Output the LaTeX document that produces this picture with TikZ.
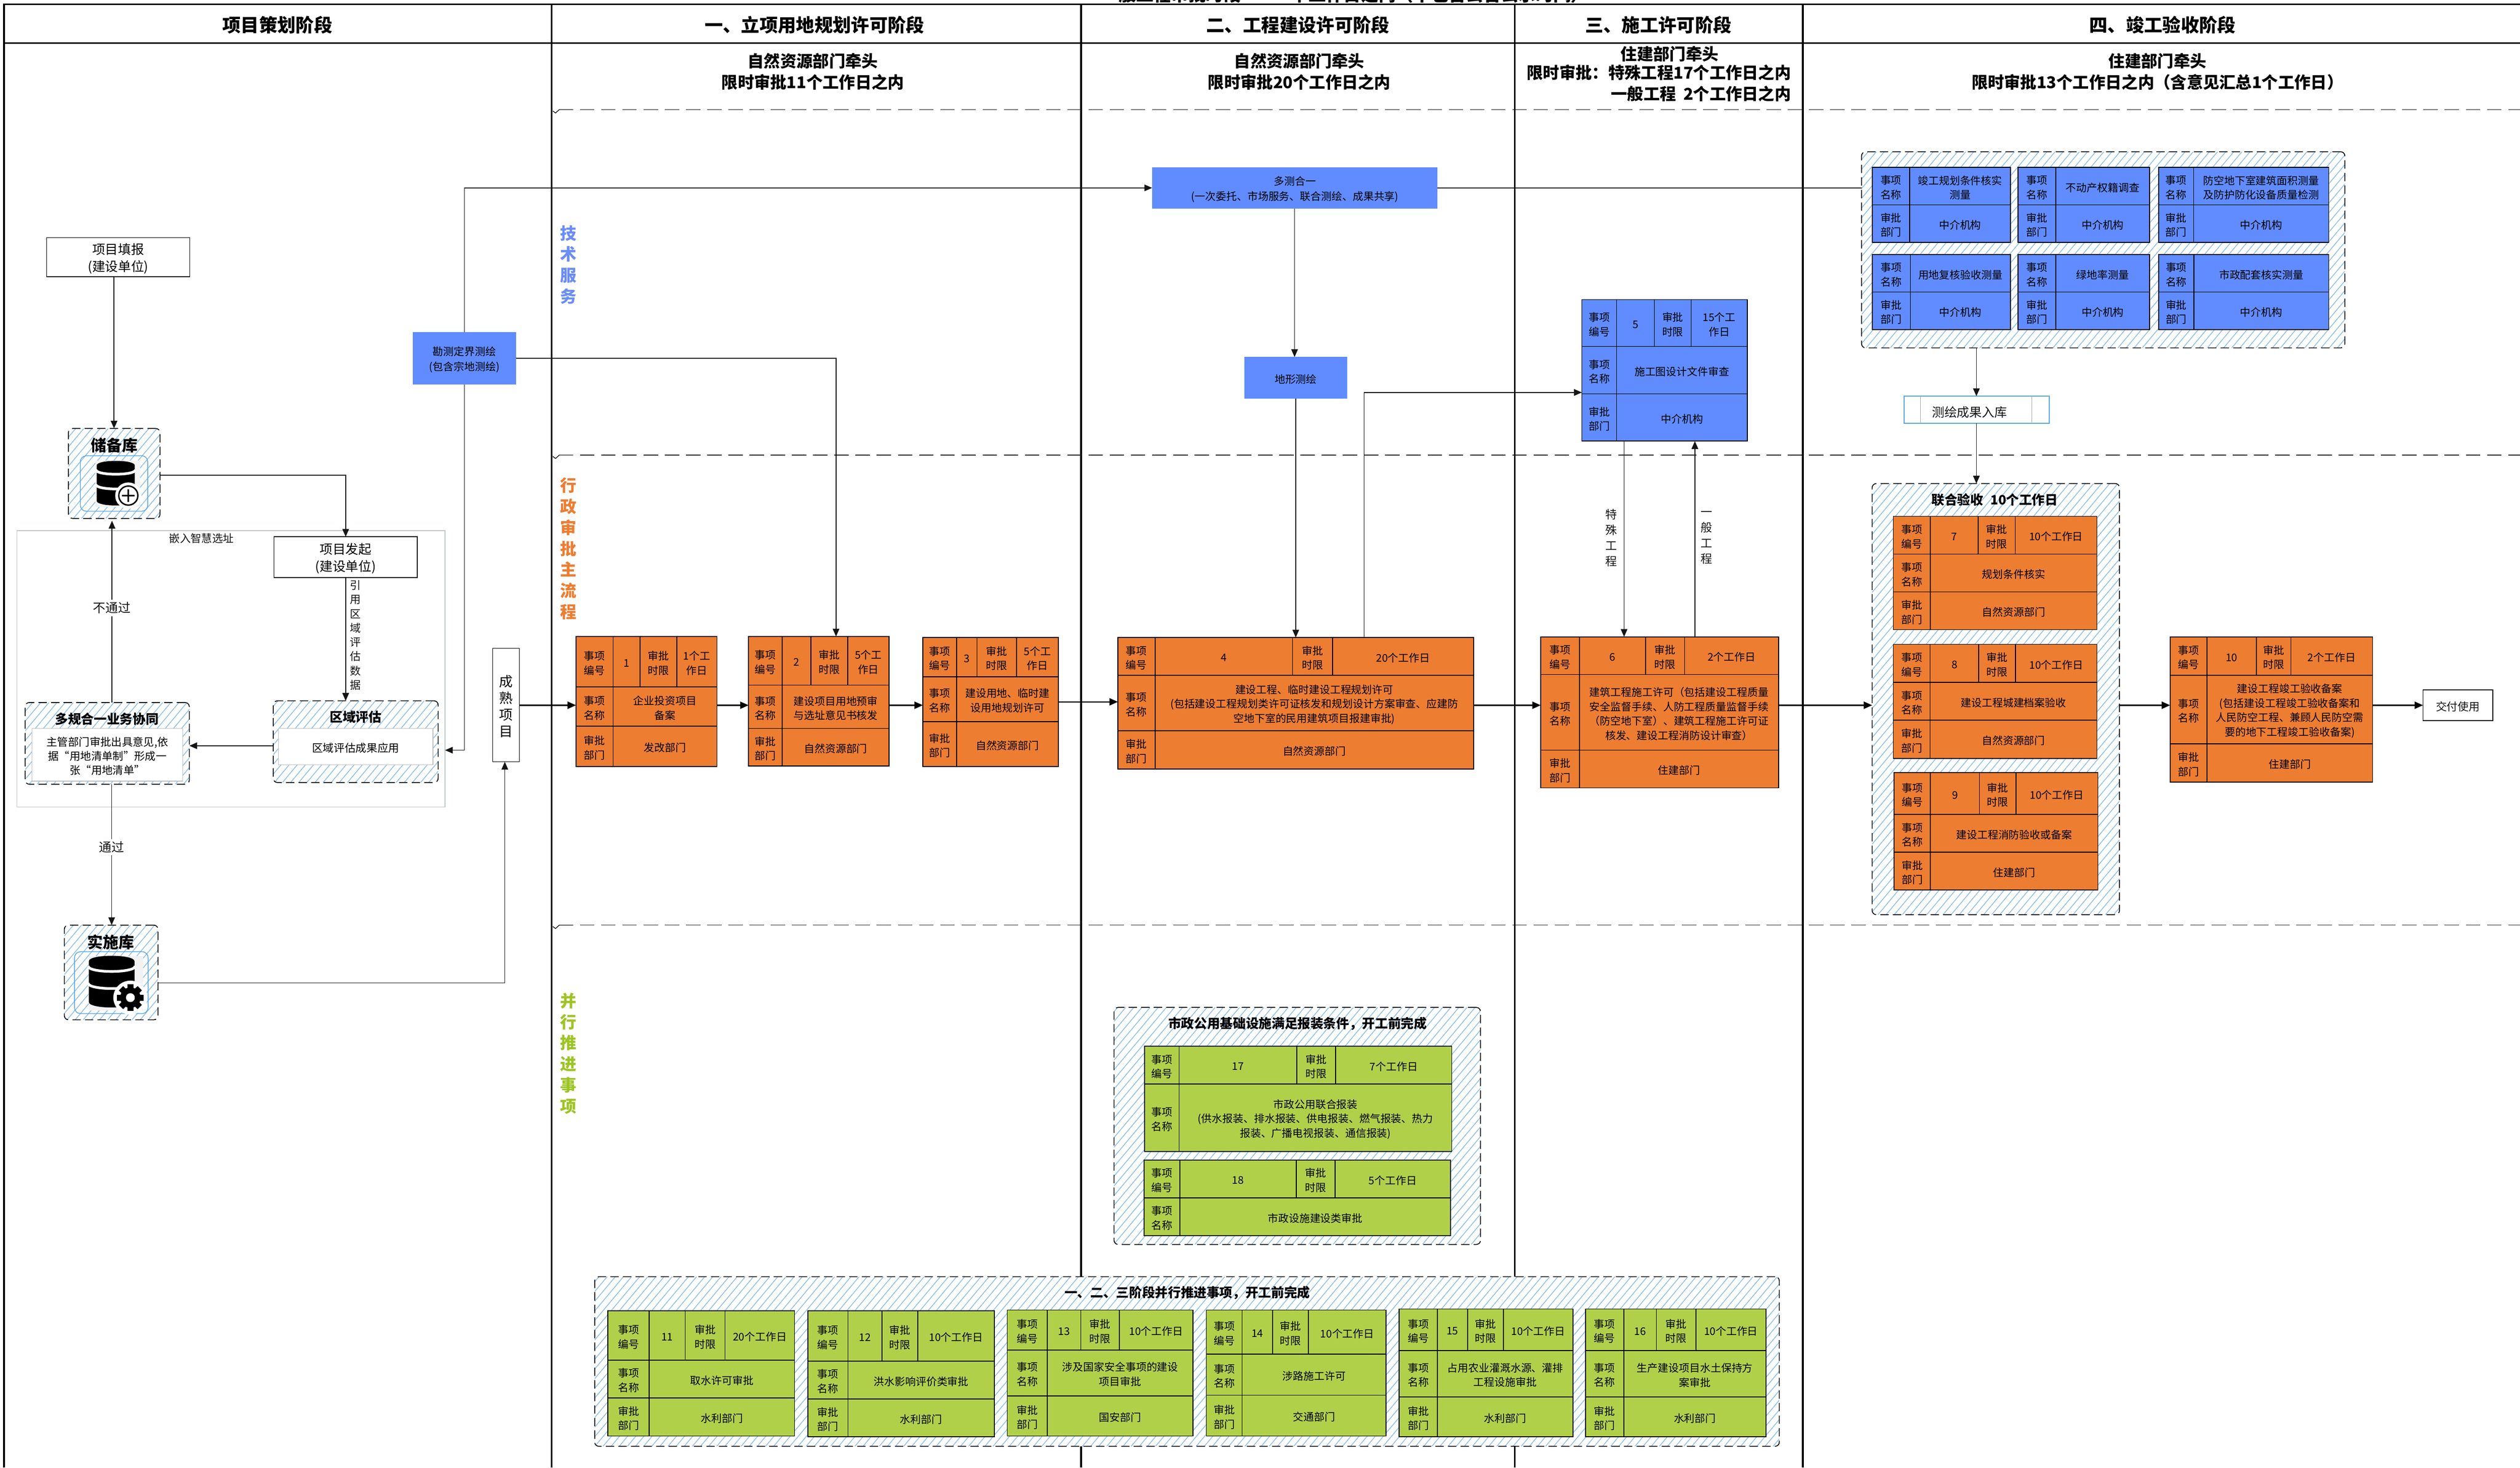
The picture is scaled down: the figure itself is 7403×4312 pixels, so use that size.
\documentclass[tikz,border=0pt]{standalone}
\usepackage{fontspec}
\setmainfont{Noto Sans CJK SC}
\usetikzlibrary{arrows.meta,patterns.meta,calc}
\definecolor{tblblue}{HTML}{608CFF}
\definecolor{tblorange}{HTML}{ED7D31}
\definecolor{tblgreen}{HTML}{B1D04A}
\definecolor{hatchc}{HTML}{85BCEB}
\definecolor{sideblue}{HTML}{6B8DF5}
\definecolor{sidegreen}{HTML}{9DC425}
\definecolor{framegrey}{HTML}{BFC5C5}
\definecolor{innerblue}{HTML}{55A5E0}
\definecolor{inkc}{HTML}{151515}
\newcommand{\fsz}[2]{\fontsize{#1pt}{#2pt}\selectfont}
\def\geo#1,#2,#3,#4,#5,#6,#7,#8,#9;{\def\gxa{#1}\def\gya{#2}\def\gxb{#3}\def\gyb{#4}\def\gra{#5}\def\grb{#6}\def\gca{#7}\def\gcb{#8}\def\gcc{#9}}
\def\curfill{white}
% text of a box: box name, options, text
\newcommand{\boxtext}[3]{\node[inner sep=0pt,align=center,#2] (#1-t) at ([yshift=-1.2pt]#1.center) {#3};}
% name, x0, y0, x1, y1, text
\newcommand{\tcell}[6]{\node[cellbox,fill=\curfill,minimum width={(#4-#2)*0.01cm},minimum height={(#5-#3)*0.01cm}] (#1) at ({(#2+#4)/2},{(#3+#5)/2}) {};\boxtext{#1}{celltext}{#6}}
% name, fill, geometry, number, time, title, department
\newcommand{\threerow}[7]{\geo#3;\def\curfill{#2}%
\tcell{#1}{\gxa}{\gya}{\gxb}{\gyb}{}%
\tcell{#1-a}{\gxa}{\gya}{\gca}{\gra}{事项\\编号}%
\tcell{#1-b}{\gca}{\gya}{\gcb}{\gra}{#4}%
\tcell{#1-c}{\gcb}{\gya}{\gcc}{\gra}{审批\\时限}%
\tcell{#1-d}{\gcc}{\gya}{\gxb}{\gra}{#5}%
\tcell{#1-e}{\gxa}{\gra}{\gca}{\grb}{事项\\名称}%
\tcell{#1-f}{\gca}{\gra}{\gxb}{\grb}{#6}%
\tcell{#1-g}{\gxa}{\grb}{\gca}{\gyb}{审批\\部门}%
\tcell{#1-h}{\gca}{\grb}{\gxb}{\gyb}{#7}}
% name, fill, geometry, number, time, title
\newcommand{\numrow}[6]{\geo#3;\def\curfill{#2}%
\tcell{#1}{\gxa}{\gya}{\gxb}{\gyb}{}%
\tcell{#1-a}{\gxa}{\gya}{\gca}{\gra}{事项\\编号}%
\tcell{#1-b}{\gca}{\gya}{\gcb}{\gra}{#4}%
\tcell{#1-c}{\gcb}{\gya}{\gcc}{\gra}{审批\\时限}%
\tcell{#1-d}{\gcc}{\gya}{\gxb}{\gra}{#5}%
\tcell{#1-e}{\gxa}{\gra}{\gca}{\gyb}{事项\\名称}%
\tcell{#1-f}{\gca}{\gra}{\gxb}{\gyb}{#6}}
% name, x0, y0, x1, y1, r, c, title
\newcommand{\namerow}[8]{\def\curfill{tblblue}%
\tcell{#1}{#2}{#3}{#4}{#5}{}%
\tcell{#1-a}{#2}{#3}{#7}{#6}{事项\\名称}%
\tcell{#1-b}{#7}{#3}{#4}{#6}{#8}%
\tcell{#1-c}{#2}{#6}{#7}{#5}{审批\\部门}%
\tcell{#1-d}{#7}{#6}{#4}{#5}{中介机构}}
% centre x, top y, bottom y, half width
\newcommand{\dbicon}[4]{%
\pgfmathsetmacro\dbry{0.24*#4}\pgfmathsetmacro\dbh{#3-#2}%
\fill[black] ({#1-#4},{#2+\dbry}) .. controls ({#1-#4},{#2-0.33*\dbry}) and ({#1+#4},{#2-0.33*\dbry}) .. ({#1+#4},{#2+\dbry}) -- ({#1+#4},{#3-\dbry}) .. controls ({#1+#4},{#3+0.33*\dbry}) and ({#1-#4},{#3+0.33*\dbry}) .. ({#1-#4},{#3-\dbry}) -- cycle;
\foreach \dbf in {0.20,0.53}{\pgfmathsetmacro\dby{#2+\dbf*\dbh}%
\draw[white,line width=2.2pt] ({#1-#4-2},\dby) .. controls ({#1-#4-2},{\dby+1.3*\dbry}) and ({#1+#4+2},{\dby+1.3*\dbry}) .. ({#1+#4+2},\dby);}}
\tikzset{
 lane/.style={draw=black,line width=1.4pt},
 sepline/.style={draw=inkc,line width=0.6pt},
 sepdash/.style={sepline,dash pattern=on 12pt off 5.7pt},
 cellbox/.style={draw=black,line width=0.7pt,rectangle,inner sep=0pt,outer sep=0pt},
 celltext/.style={text=black,font=\fsz{8.8}{12}},
 plainbox/.style={draw=black,line width=0.6pt,rectangle,inner sep=0pt,outer sep=0pt},
 plaintext/.style={font=\fsz{10.8}{14.3}},
 bluebox/.style={fill=tblblue,rectangle,inner sep=0pt,outer sep=0pt},
 bluetext/.style={font=\fsz{8.8}{12.3}},
 hatchbox/.style={rectangle,rounded corners=3.5pt,inner sep=0pt,outer sep=0pt,draw=black,line width=0.7pt,dash pattern=on 7pt off 3.5pt,preaction={fill=white},pattern={Lines[angle=50,distance=5.2pt,line width=0.6pt]},pattern color=hatchc},
 whitebody/.style={draw=black!25,fill=white,line width=0.6pt,rectangle,inner sep=0pt,outer sep=0pt},
 lanehead/.style={font=\fsz{15.3}{18}\bfseries,inner sep=0pt},
 subhead/.style={font=\fsz{13.6}{17.8}\bfseries,inner sep=0pt,align=center},
 stack/.style={font=\fsz{13.7}{17.6}\bfseries,inner sep=0pt,align=center},
 grouptitle/.style={font=\fsz{10.8}{14}\bfseries,inner sep=0pt,align=center},
 vlabel/.style={font=\fsz{9.7}{13.1},text=inkc,inner sep=0pt,align=center},
 flowlabel/.style={font=\fsz{10.5}{14},fill=white,inner sep=2pt,text=inkc},
 conn/.style={draw=inkc,line width=0.7pt,-{Triangle[length=6.5pt,width=5.5pt]}},
 plainconn/.style={draw=inkc,line width=0.7pt},
 flow/.style={draw=black,line width=1pt,-{Triangle[length=7pt,width=6pt]}},
}
\begin{document}
\begin{tikzpicture}[x=0.01cm,y=-0.01cm]
\useasboundingbox (0,0) rectangle (7403,4312);
\fill[white] (0,0) rectangle (7403,4312);
% cut-off title
\node[anchor=base west,inner sep=0pt,font=\fsz{14.6}{17}\bfseries] (pagetitle) at (3234,3) {一般工程审批时段\hspace{42pt}个工作日之内（不包含公告公示时间）};
% swimlanes
\draw[lane] (12,4312) -- (12,13) -- (7403,13);
\draw[lane] (12,127) -- (7403,127);
\foreach \lx in {1620,3176,4450,5296}{\draw[lane] (\lx,13) -- (\lx,4312);}
\foreach \ly in {322,1337,2718}{
 \draw[sepline] (1624,\ly+4) -- (1632,\ly+10) -- (1643,\ly) -- (1684,\ly);
 \draw[sepdash] (1704,\ly) -- (7403,\ly);}
\node[lanehead] (h0) at (815,73) {项目策划阶段};
\node[lanehead] (h1) at (2393,73) {一、立项用地规划许可阶段};
\node[lanehead] (h2) at (3813,73) {二、工程建设许可阶段};
\node[lanehead] (h3) at (4872,73) {三、施工许可阶段};
\node[lanehead] (h4) at (6353,73) {四、竣工验收阶段};
\node[subhead] (s1) at (2388,210) {自然资源部门牵头\\限时审批11个工作日之内};
\node[subhead] (s2) at (3817,210) {自然资源部门牵头\\限时审批20个工作日之内};
\node[subhead] (s3a) at (4905,159) {住建部门牵头};
\node[subhead,anchor=east] (s3b) at (5262,214) {限时审批：特殊工程17个工作日之内};
\node[subhead,anchor=east] (s3c) at (5262,275) {一般工程\hspace{6pt}2个工作日之内};
\node[subhead] (s4) at (6338,211) {住建部门牵头\\限时审批13个工作日之内（含意见汇总1个工作日）};
\node[stack,text=sideblue] (side1) at (1670,778) {技\\术\\服\\务};
\node[stack,text=tblorange] (side2) at (1670,1612) {行\\政\\审\\批\\主\\流\\程};
\node[stack,text=sidegreen] (side3) at (1670,3095) {并\\行\\推\\进\\事\\项};
% planning lane
\node[draw=framegrey,line width=0.7pt,rectangle,inner sep=0pt,outer sep=0pt,minimum width=12.57cm,minimum height=8.12cm] (frame) at (678.5,1965) {};
\node[font=\fsz{9}{11},text=inkc,inner sep=0pt] (framelabel) at (592,1582) {嵌入智慧选址};
\node[plainbox,minimum width=4.20cm,minimum height=1.15cm] (fill) at (347,755.5) {};
\boxtext{fill}{plaintext}{项目填报\\(建设单位)}
\node[plainbox,minimum width=4.21cm,minimum height=1.20cm] (start) at (1015.5,1637) {};
\boxtext{start}{plaintext}{项目发起\\(建设单位)}
\node[hatchbox,minimum width=2.69cm,minimum height=2.64cm] (store) at (335.5,1391) {};
\node[grouptitle,font=\fsz{13}{15}\bfseries] (storelabel) at (336,1309) {储备库};
\draw[innerblue,line width=0.6pt,rounded corners=5pt] (236,1339) rectangle (434,1502);
\fill[black!5] (280,1353) rectangle (412,1490);
\dbicon{340}{1354}{1485}{56}
\draw[fill=white,draw=white,line width=1.5pt] (377,1456) circle[radius=36];
\draw[fill=white,draw=black,line width=1.2pt] (377,1456) circle[radius=28];
\draw[black,line width=1pt] (377,1438) -- (377,1474) (359,1456) -- (395,1456);
\node[hatchbox,minimum width=4.84cm,minimum height=2.40cm] (region) at (1045,2179) {};
\node[grouptitle] (regionlabel) at (1045,2107) {区域评估};
\node[whitebody,minimum width=4.54cm,minimum height=1.07cm] (regionbody) at (1045,2193.5) {};
\boxtext{regionbody}{font=\fsz{9.1}{12}}{区域评估成果应用}
\node[hatchbox,minimum width=4.82cm,minimum height=2.40cm] (plan) at (315,2184) {};
\node[grouptitle] (planlabel) at (314,2112) {多规合一业务协同};
\node[whitebody,minimum width=4.43cm,minimum height=1.55cm] (planbody) at (315.5,2217.5) {};
\boxtext{planbody}{font=\fsz{9}{11.8}}{主管部门审批出具意见,依\\据“用地清单制”形成一\\张“用地清单”}
\node[hatchbox,minimum width=2.75cm,minimum height=2.78cm] (impl) at (326.5,2857) {};
\node[grouptitle,font=\fsz{13}{15}\bfseries] (impllabel) at (326,2768) {实施库};
\draw[innerblue,line width=0.6pt,rounded corners=5pt] (219,2796) rectangle (435,2978);
\fill[black!5] (260,2808) rectangle (421,2969);
\dbicon{328}{2808}{2960}{67}
\fill[white] (383,2931) circle[radius=50];
\foreach \ga in {0,45,...,135}{\fill[black,rotate around={\ga:(383,2931)}] (374,2892) rectangle (392,2970);}
\fill[black] (383,2931) circle[radius=30];
\fill[white] (383,2931) circle[radius=13];
\node[plainbox,minimum width=0.79cm,minimum height=3.33cm] (mature) at (1486.5,2071.5) {};
\boxtext{mature}{font=\fsz{11.4}{13.9}}{成\\熟\\项\\目}
\node[bluebox,minimum width=3.03cm,minimum height=1.53cm] (survey) at (1364.5,1052.5) {};
\boxtext{survey}{bluetext}{勘测定界测绘\\(包含宗地测绘)}
% technical services
\node[bluebox,minimum width=8.38cm,minimum height=1.22cm] (multi) at (3804,552) {};
\boxtext{multi}{bluetext}{多测合一\\(一次委托、市场服务、联合测绘、成果共享)}
\node[bluebox,minimum width=3.03cm,minimum height=1.22cm] (terrain) at (3806.5,1110) {};
\boxtext{terrain}{bluetext}{地形测绘}
\threerow{t5}{tblblue}{4647,880,5133,1296,1018,1157,4749,4860,4968}{5}{15个工\\作日}{施工图设计文件审查}{中介机构}
\node[hatchbox,minimum width=14.19cm,minimum height=5.76cm] (bluegroup) at (6178.5,734) {};
\namerow{b1}{5500}{492}{5906}{712}{602}{5610}{竣工规划条件核实\\测量}
\namerow{b2}{5928}{492}{6315}{712}{602}{6039}{不动产权籍调查}
\namerow{b3}{6341}{492}{6841}{712}{602}{6444}{防空地下室建筑面积测量\\及防护防化设备质量检测}
\namerow{b4}{5500}{748}{5906}{968}{858}{5612}{用地复核验收测量}
\namerow{b5}{5928}{748}{6315}{968}{858}{6039}{绿地率测量}
\namerow{b6}{6341}{748}{6841}{968}{858}{6445}{市政配套核实测量}
\node[rectangle,draw=innerblue,line width=0.8pt,fill=white,inner sep=0pt,outer sep=0pt,minimum width=4.26cm,minimum height=0.80cm] (archive) at (5807,1204) {};
\node[inner sep=0pt,font=\fsz{10.5}{13},text=inkc] (archive-t) at (5786,1211) {测绘成果入库};
\draw[black!35,line width=0.4pt] (5641,1164) -- (5641,1244) (5969,1164) -- (5969,1244);
% main approval chain
\threerow{t1}{tblorange}{1692,1870,2106,2252,2018,2134,1801,1880,1988}{1}{1个工\\作日}{企业投资项目\\备案}{发改部门}
\threerow{t2}{tblorange}{2199,1870,2612,2250,2013,2140,2298,2382,2490}{2}{5个工\\作日}{建设项目用地预审\\与选址意见书核发}{自然资源部门}
\threerow{t3}{tblorange}{2711,1873,3109,2252,1988,2120,2810,2870,2986}{3}{5个工\\作日}{建设用地、临时建\\设用地规划许可}{自然资源部门}
\threerow{t4}{tblorange}{3284,1873,4329,2259,1984,2147,3393,3797,3915}{4}{20个工作日}{建设工程、临时建设工程规划许可\\(包括建设工程规划类许可证核发和规划设计方案审查、应建防\\空地下室的民用建筑项目报建审批)}{自然资源部门}
\threerow{t6}{tblorange}{4526,1871,5225,2315,1982,2204,4640,4834,4949}{6}{2个工作日}{建筑工程施工许可（包括建设工程质量\\安全监督手续、人防工程质量监督手续\\（防空地下室）、建筑工程施工许可证\\核发、建设工程消防设计审查）}{住建部门}
\node[hatchbox,minimum width=7.26cm,minimum height=12.66cm] (joint) at (5863,2054) {};
\node[grouptitle] (jointlabel) at (5860,1469) {联合验收\hspace{6pt}10个工作日};
\threerow{t7}{tblorange}{5562,1517,6160,1850,1628,1739,5671,5811,5920}{7}{10个工作日}{规划条件核实}{自然资源部门}
\threerow{t8}{tblorange}{5562,1893,6160,2228,2005,2116,5670,5813,5921}{8}{10个工作日}{建设工程城建档案验收}{自然资源部门}
\threerow{t9}{tblorange}{5564,2270,6163,2615,2393,2504,5671,5815,5922}{9}{10个工作日}{建设工程消防验收或备案}{住建部门}
\threerow{t10}{tblorange}{6375,1871,6970,2298,1984,2185,6483,6629,6730}{10}{2个工作日}{建设工程竣工验收备案\\(包括建设工程竣工验收备案和\\人民防空工程、兼顾人民防空需\\要的地下工程竣工验收备案)}{住建部门}
\node[plainbox,minimum width=2.05cm,minimum height=0.90cm] (deliver) at (7220.5,2072) {};
\boxtext{deliver}{font=\fsz{9.2}{12},text=inkc}{交付使用}
% parallel items
\node[hatchbox,minimum width=10.76cm,minimum height=6.96cm] (gone) at (3811,3308) {};
\node[grouptitle] (gonelabel) at (3812,3008) {市政公用基础设施满足报装条件，开工前完成};
\numrow{t17}{tblgreen}{3362,3074,4265,3383,3185,0,3464,3810,3924}{17}{7个工作日}{市政公用联合报装\\(供水报装、排水报装、供电报装、燃气报装、热力\\报装、广播电视报装、通信报装)}
\numrow{t18}{tblgreen}{3361,3408,4261,3630,3519,0,3466,3808,3922}{18}{5个工作日}{市政设施建设类审批}
\node[hatchbox,minimum width=34.78cm,minimum height=4.98cm] (gtwo) at (3487,4000) {};
\node[grouptitle] (gtwolabel) at (3488,3798) {一、二、三阶段并行推进事项，开工前完成};
\threerow{t11}{tblgreen}{1786,3851,2334,4219,3996,4107,1907,2013,2130}{11}{20个工作日}{取水许可审批}{水利部门}
\threerow{t12}{tblgreen}{2373,3851,2921,4221,3999,4110,2491,2591,2696}{12}{10个工作日}{洪水影响评价类审批}{水利部门}
\threerow{t13}{tblgreen}{2959,3849,3505,4219,3966,4101,3077,3175,3288}{13}{10个工作日}{涉及国家安全事项的建设\\项目审批}{国安部门}
\threerow{t14}{tblgreen}{3544,3849,4072,4219,3978,4099,3649,3738,3844}{14}{10个工作日}{涉路施工许可}{交通部门}
\threerow{t15}{tblgreen}{4110,3846,4621,4221,3968,4104,4223,4311,4417}{15}{10个工作日}{占用农业灌溉水源、灌排\\工程设施审批}{水利部门}
\threerow{t16}{tblgreen}{4658,3846,5188,4221,3968,4104,4770,4866,4982}{16}{10个工作日}{生产建设项目水土保持方\\案审批}{水利部门}
% connectors, planning lane
\draw[conn] (fill.south -| 335,0) -- (store.north -| 335,0);
\draw[conn] (store.east |- 0,1396) -| (start.north);
\draw[conn] (start.south) -- (start.south |- region.north);
\node[vlabel,font=\fsz{9.1}{11.9}] (startlabel) at (1045,1866) {引\\用\\区\\域\\评\\估\\数\\据};
\draw[conn] (region.west |- 0,2191) -- (plan.east |- 0,2191);
\draw[conn] (plan.north -| 329,0) -- (329,1530) node[flowlabel,pos=0.52] (nopass) {不通过};
\draw[conn] (plan.south -| 328,0) -- (impl.north -| 328,0) node[flowlabel,pos=0.445] (pass) {通过};
\draw[conn] (impl.east |- 0,2888) -| (mature.south -| 1483,0);
\draw[conn] (survey.north) |- (multi.west);
\draw[conn] (survey.south) |- (frame.east |- 0,2204);
\draw[conn] (survey.east) -| (t2.north -| 2456,0);
% connectors, technical services
\draw[plainconn] (multi.east) -- (bluegroup.west |- multi.east);
\draw[conn] (multi.south -| 3803,0) -- (terrain.north -| 3803,0);
\draw[conn] (terrain.south) -- (t4.north -| terrain.south);
\draw[conn] (t4.north -| 4007,0) |- (t5.west |- 0,1153);
\draw[conn] (t5.south -| 4771,0) -- (t6.north -| 4771,0);
\draw[conn] (t6.north -| 4979,0) -- (t5.south -| 4979,0);
\node[vlabel] (speciallabel) at (4734,1580) {特\\殊\\工\\程};
\node[vlabel] (generallabel) at (5013,1580) {一\\般\\工\\程};
\draw[conn] (bluegroup.south -| 5806,0) -- (archive.north -| 5806,0);
\draw[conn] (archive.south -| 5806,0) -- (joint.north -| 5806,0);
% connectors, main chain
\draw[flow] (mature.east |- 0,2072) -- (t1.west |- 0,2072);
\draw[flow] (t1.east |- 0,2072) -- (t2.west |- 0,2072);
\draw[flow] (t2.east |- 0,2072) -- (t3.west |- 0,2072);
\draw[flow] (t3.east |- 0,2062) -- (t4.west |- 0,2062);
\draw[flow] (t4.east |- 0,2072) -- (t6.west |- 0,2072);
\draw[flow] (t6.east |- 0,2072) -- (joint.west |- 0,2072);
\draw[flow] (joint.east |- 0,2072) -- (t10.west |- 0,2072);
\draw[flow] (t10.east |- 0,2072) -- (deliver.west);
\end{tikzpicture}
\end{document}
